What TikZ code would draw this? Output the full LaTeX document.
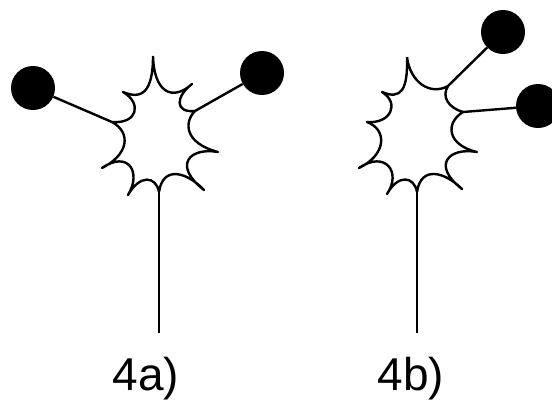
\documentclass[tikz,border=0pt]{standalone}
\usepackage{fontspec}
\setmainfont{Liberation Sans}
\begin{document}
\begin{tikzpicture}[
    x=1pt, y=-1pt,
    ball/.style={circle, fill=black, inner sep=0pt, minimum size=44pt},
    lbl/.style={font=\fontsize{46}{50}\selectfont, inner sep=0pt, anchor=base},
    wire/.style={line width=2.4pt, black},
  ]
    \useasboundingbox (0,0) rectangle (552,400);

    % Left cell
    \coordinate (atop) at (153,56);
    \coordinate (ajr) at (195,111);
    \coordinate (ajl) at (112,122);
    \coordinate (abot) at (159,192);
    \coordinate (aend) at (159,333);
    \node[ball] (a1) at (33,88) {};
    \node[ball] (a2) at (262,73) {};
    \draw[wire, line join=round] (atop)
      .. controls (154,92) and (172,102) .. (192,84)
      .. controls (176,96) and (174,113) .. (ajr)
      .. controls (184,122) and (184,143) .. (218,152)
      .. controls (190,147) and (172,165) .. (204,190)
      .. controls (187,172) and (163,165) .. (abot)
      .. controls (156,176) and (140,174) .. (128,195)
      .. controls (142,172) and (128,150) .. (102,168)
      .. controls (128,155) and (132,133) .. (ajl)
      .. controls (138,124) and (142,103) .. (123,92)
      .. controls (142,100) and (153,92) .. (atop);
    \draw[wire] (abot) -- (aend);
    \draw[wire] (a1) -- (ajl);
    \draw[wire] (a2) -- (ajr);

    % Right cell
    \coordinate (btop) at (407,57);
    \coordinate (bju) at (448,86);
    \coordinate (bjd) at (463,112);
    \coordinate (bbot) at (417,192);
    \coordinate (bend) at (417,333);
    \node[ball] (b1) at (503,32) {};
    \node[ball] (b2) at (538,106) {};
    \draw[wire, line join=round] (btop)
      .. controls (410,82) and (430,96) .. (bju)
      .. controls (441,97) and (449,108) .. (bjd)
      .. controls (445,123) and (447,145) .. (477,152)
      .. controls (449,147) and (431,165) .. (462,189)
      .. controls (445,172) and (421,165) .. (bbot)
      .. controls (414,176) and (398,174) .. (387,194)
      .. controls (402,172) and (385,150) .. (359,168)
      .. controls (386,155) and (388,130) .. (367,122)
      .. controls (391,124) and (400,103) .. (382,92)
      .. controls (401,100) and (408,90) .. (btop);
    \draw[wire] (bbot) -- (bend);
    \draw[wire] (b1) -- (bju);
    \draw[wire] (b2) -- (bjd);

    \node[lbl] (la) at (146,390) {4a)};
    \node[lbl] (lb) at (411,390) {4b)};
\end{tikzpicture}
\end{document}
